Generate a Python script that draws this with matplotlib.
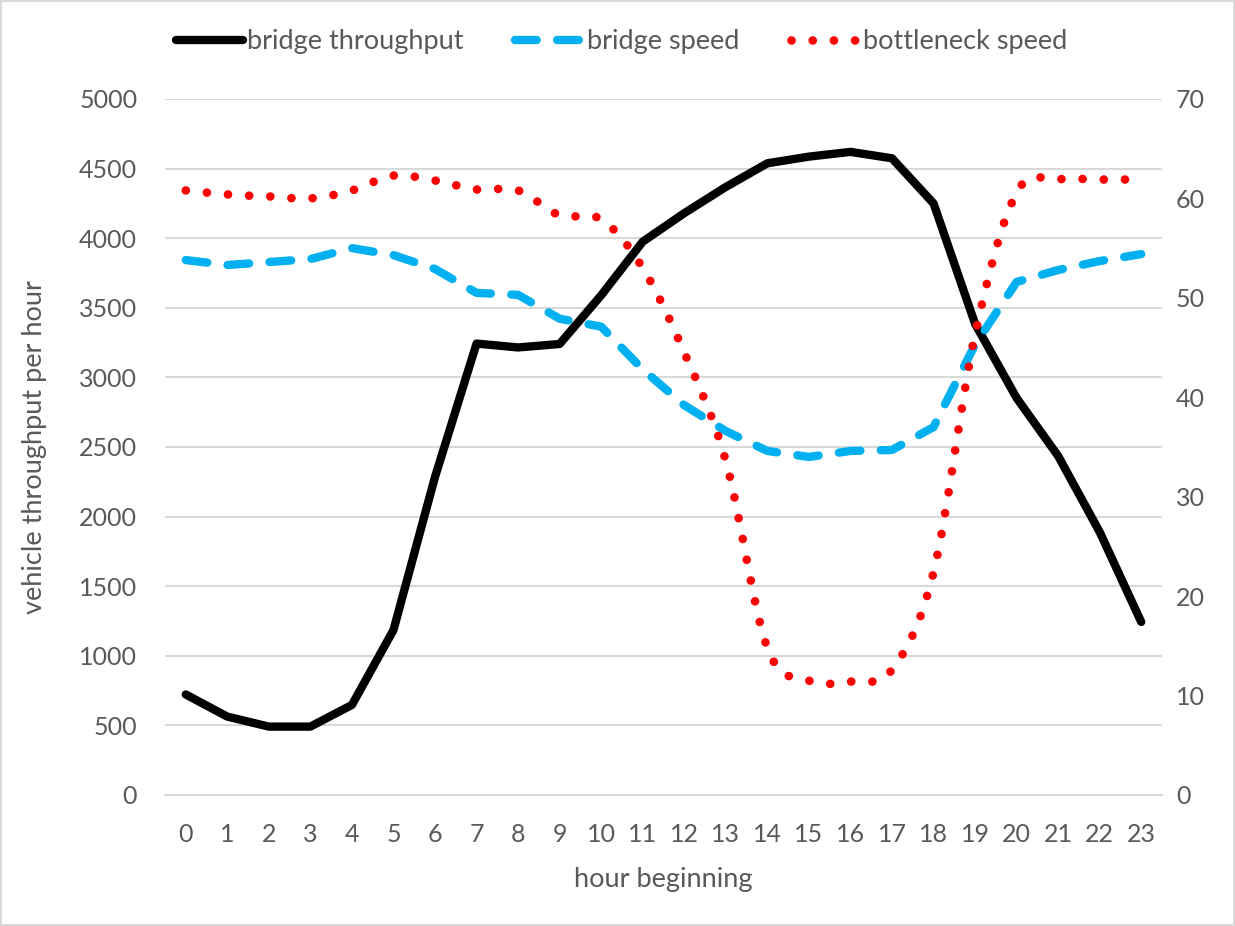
import numpy as np
import matplotlib.pyplot as plt
from matplotlib.path import Path
from matplotlib.patches import PathPatch
from matplotlib.lines import Line2D

plt.rcParams['font.family'] = ['Lato', 'DejaVu Sans']

hours = list(range(24))
throughput = [722, 563, 491, 491, 647, 1185, 2285, 3243, 3215, 3240, 3590, 3975, 4180, 4368,
              4538, 4586, 4620, 4574, 4250, 3385, 2852, 2435, 1889, 1243]
bridge_speed = [53.8, 53.3, 53.6, 53.9, 55.0, 54.3, 52.9, 50.5, 50.3, 47.9, 47.1, 42.8, 39.2, 36.6,
                34.6, 34.0, 34.6, 34.7, 37.0, 45.3, 51.6, 52.8, 53.7, 54.4]
bottleneck_speed = [60.8, 60.4, 60.2, 60.0, 60.8, 62.3, 61.8, 60.9, 60.8, 58.3, 57.9, 53.0, 44.5, 33.6,
                    14.8, 11.5, 11.4, 12.6, 22.4, 46.3, 60.6, 61.9, 61.9, 61.9]

txt = '#595959'
grid = '#D9D9D9'
black = '#000000'
blue = '#00B0F0'
red = '#FF0000'

def smooth_path(x, y):
    # excel style smoothed line: catmull-rom bezier through the points
    x = np.asarray(x, float)
    y = np.asarray(y, float)
    n = len(x)
    verts = [(x[0], y[0])]
    codes = [Path.MOVETO]
    for i in range(n - 1):
        i0 = max(i - 1, 0)
        i3 = min(i + 2, n - 1)
        c1 = (x[i] + (x[i + 1] - x[i0]) / 6, y[i] + (y[i + 1] - y[i0]) / 6)
        c2 = (x[i + 1] - (x[i3] - x[i]) / 6, y[i + 1] - (y[i3] - y[i]) / 6)
        verts += [c1, c2, (x[i + 1], y[i + 1])]
        codes += [Path.CURVE4] * 3
    return Path(verts, codes)

dot_style = (0, (0.01, 2.45))
dash_style = (0, (2.6, 2.45))

fig = plt.figure(figsize=(12.35, 9.26), dpi=100)
fig.patch.set_edgecolor(grid)
fig.patch.set_linewidth(1.5)
ax = fig.add_axes([0.1336, 0.1415, 0.8073, 0.7516])
ax2 = ax.twinx()

ax.plot(hours, throughput, color=black, lw=6, solid_capstyle='round', solid_joinstyle='round', zorder=3)
ax2.plot(hours, bridge_speed, color=blue, lw=6, linestyle=dash_style,
         dash_capstyle='round', dash_joinstyle='round', zorder=2)
ax2.add_patch(PathPatch(smooth_path(hours, bottleneck_speed), facecolor='none', edgecolor=red,
                        lw=6.2, linestyle=dot_style, capstyle='round', zorder=4))

ax.set_xlim(-0.5, 23.5)
ax.set_ylim(0, 5000)
ax2.set_ylim(0, 70)
ax.set_yticks(range(0, 5001, 500))
ax2.set_yticks(range(0, 71, 10))
ax.set_xticks(hours)
ax.grid(axis='y', color=grid, lw=1.5)
ax.set_axisbelow(True)
for a in (ax, ax2):
    for s in ('top', 'left', 'right', 'bottom'):
        a.spines[s].set_visible(False)
ax.spines['bottom'].set_visible(True)
ax.spines['bottom'].set_color(grid)
ax.spines['bottom'].set_linewidth(1.5)
ax.tick_params(axis='y', length=0, pad=20, labelsize=18, labelcolor=txt)
ax.tick_params(axis='x', length=0, pad=20, labelsize=18, labelcolor=txt)
ax2.tick_params(axis='y', length=0, pad=10, labelsize=18, labelcolor=txt)

ax.set_ylabel('vehicle throughput per hour', fontsize=19.5, color=txt, labelpad=23)
ax.set_xlabel('hour beginning', fontsize=19.5, color=txt, labelpad=15)

handles = [
    Line2D([], [], color=black, lw=6, solid_capstyle='round'),
    Line2D([], [], color=blue, lw=6, linestyle=dash_style, dash_capstyle='round'),
    Line2D([], [], color=red, lw=6.2, linestyle=dot_style, dash_capstyle='round'),
]
fig.legend(handles, ['bridge throughput', 'bridge speed', 'bottleneck speed'], loc='center',
           bbox_to_anchor=(0.503, 0.955), ncol=3, frameon=False, fontsize=19.5, labelcolor=txt,
           handlelength=2.5, handletextpad=0.15, columnspacing=1.9)

fig.savefig('out.png', dpi=100)
